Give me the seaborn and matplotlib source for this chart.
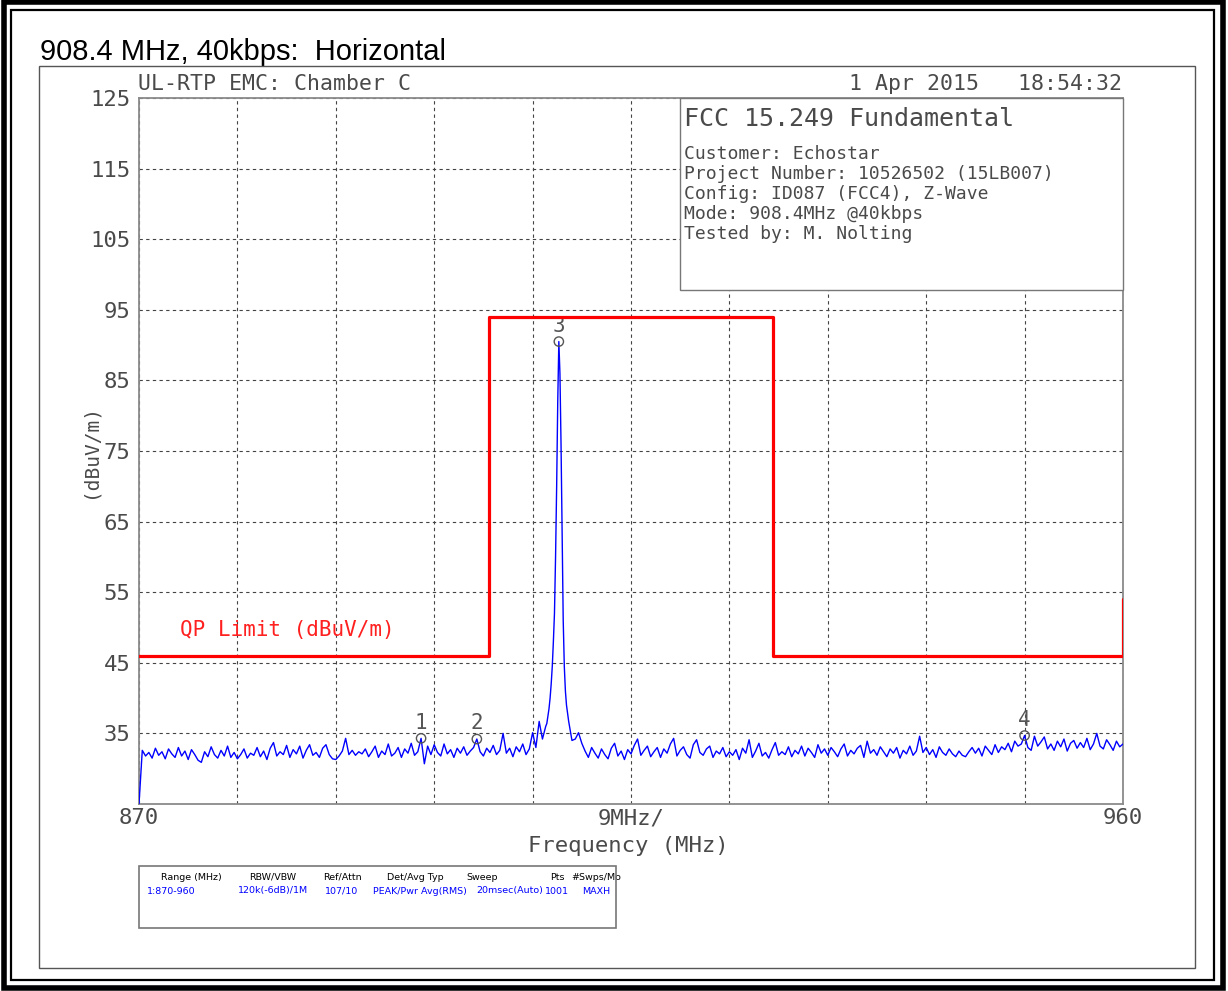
import numpy as np
import pandas as pd
import matplotlib
matplotlib.use("Agg")
import matplotlib.pyplot as plt
from matplotlib.patches import Rectangle
import seaborn as sns

# ---------------- data ----------------
sweep_start, sweep_stop, sweep_points = 870.0, 960.0, 301
noise_level = [
    25.0, 32.6, 31.8, 32.3, 31.5, 32.9, 31.9, 32.4, 31.4, 32.8,
    32.1, 31.6, 33.0, 31.8, 32.5, 31.3, 32.7, 32.0, 31.2, 30.9,
    32.4, 31.7, 33.1, 32.0, 31.5, 32.6, 31.8, 33.2, 31.6, 32.3,
    31.4, 32.0, 32.8, 31.5, 32.2, 31.9, 33.0, 31.7, 32.5, 31.3,
    32.9, 33.7, 31.8, 32.4, 32.0, 33.3, 31.6, 32.7, 32.1, 33.2,
    31.5, 32.6, 33.4, 31.9, 32.3, 31.6, 32.9, 33.4, 32.0, 31.4,
    31.3, 31.8, 32.5, 34.3, 32.0, 32.6, 31.9, 32.4, 32.1, 32.8,
    31.7, 32.4, 33.2, 31.6, 32.5, 32.0, 33.5, 31.8, 32.2, 33.0,
    31.6, 32.8, 32.2, 33.6, 31.9, 32.4, 34.3, 30.7, 33.2, 32.0,
    33.4, 32.3, 31.8, 33.5, 32.1, 32.7, 31.6, 32.9, 32.2, 33.1,
    31.9, 32.5, 33.0, 34.2, 32.4, 31.8, 32.9, 32.3, 33.3, 32.0,
    32.6, 35.0, 32.2, 32.9, 31.7, 33.1, 32.4, 33.5, 32.0, 32.8,
    35.1, 33.0, 36.7, 34.2, 36.0, 38.5, 44.5, 60.0, 90.5, 64.0,
    41.0, 36.7, 34.0, 34.2, 35.1, 33.6, 32.5, 31.6, 33.0, 32.2,
    31.5, 32.8, 32.0, 31.4, 32.9, 33.6, 31.8, 32.5, 31.3, 32.7,
    32.1, 33.3, 34.2, 31.9, 32.6, 33.2, 31.7, 32.4, 33.0, 31.6,
    32.8, 32.2, 33.5, 34.3, 31.8, 32.6, 33.1, 32.0, 31.5, 33.4,
    34.1, 32.3, 31.9, 32.8, 33.2, 31.6, 32.5, 32.1, 33.0, 31.7,
    32.4, 31.9, 32.7, 31.3, 32.9, 32.2, 34.1, 31.6, 32.5, 33.6,
    31.8, 32.3, 31.5, 32.7, 33.7, 31.9, 32.4, 32.0, 33.1, 31.7,
    32.6, 32.1, 33.2, 31.8, 32.9, 32.3, 31.6, 33.4, 32.2, 32.8,
    31.9, 33.0, 32.4, 31.7, 32.8, 33.5, 31.8, 32.6, 32.1, 32.9,
    33.3, 31.6, 33.9, 32.2, 32.7, 31.9, 33.1, 32.4, 31.7, 32.8,
    32.2, 33.0, 31.5, 32.6, 32.1, 33.2, 31.9, 32.5, 34.6, 32.3,
    33.0, 32.0, 32.7, 31.6, 33.1, 32.3, 31.9, 32.8, 32.1, 31.7,
    32.5, 31.9, 31.7, 32.4, 33.0, 32.2, 32.9, 31.8, 33.2, 32.6,
    32.0, 33.4, 32.3, 33.1, 32.7, 33.6, 32.4, 33.9, 33.2, 33.5,
    34.7, 33.0, 32.6, 34.6, 33.2, 33.8, 34.5, 32.8, 33.5, 32.6,
    33.9, 33.1, 34.2, 32.5, 33.6, 34.0, 32.9, 33.7, 33.0, 34.3,
    32.7, 33.5, 35.0, 33.2, 32.8, 34.1, 33.4, 32.6, 33.9, 33.1,
    33.5,
]
peak_freq = [907.3, 907.4, 907.5, 907.6, 907.7, 907.8, 907.9, 908.0, 908.1, 908.2,
             908.3, 908.4, 908.5, 908.6, 908.7, 908.8, 908.9, 909.0, 909.1, 909.2, 909.3]
peak_level = [36.4, 37.4, 38.5, 40.0, 42.0, 44.5, 48.0, 52.0, 60.0, 70.0,
              82.0, 90.5, 86.0, 76.0, 64.0, 51.0, 44.5, 41.0, 39.0, 37.8, 36.7]

limit_freq = [870, 902, 902, 928, 928, 960, 960]
limit_level = [46, 46, 94, 94, 46, 46, 54]

marker_names = ["1", "2", "3", "4"]
marker_freq = [895.8, 900.9, 908.4, 951.0]
marker_level = [34.3, 34.2, 90.5, 34.7]

y_ticks = [35, 45, 55, 65, 75, 85, 95, 105, 115, 125]
x_ticks = [870, 879, 888, 897, 906, 915, 924, 933, 942, 951, 960]
x_ticklabels = ["870", "", "", "", "", "9MHz/", "", "", "", "", "960"]

info_title = "FCC 15.249 Fundamental"
info_lines = ["Customer: Echostar",
              "Project Number: 10526502 (15LB007)",
              "Config: ID087 (FCC4), Z-Wave",
              "Mode: 908.4MHz @40kbps",
              "Tested by: M. Nolting"]
table_headers = ["Range (MHz)", "RBW/VBW", "Ref/Attn", "Det/Avg Typ", "Sweep", "Pts", "#Swps/Mo"]
table_values = ["1:870-960", "120k(-6dB)/1M", "107/10", "PEAK/Pwr Avg(RMS)", "20msec(Auto)", "1001", "MAXH"]

# ---------------- build trace ----------------
noise_freq = np.linspace(sweep_start, sweep_stop, sweep_points)
noise_df = pd.DataFrame({"freq": noise_freq, "level": noise_level})
keep = (noise_df["freq"] < peak_freq[0]) | (noise_df["freq"] > peak_freq[-1])
trace = pd.concat([noise_df[keep], pd.DataFrame({"freq": peak_freq, "level": peak_level})])
trace = trace.sort_values("freq").reset_index(drop=True)
limit_df = pd.DataFrame({"freq": limit_freq, "level": limit_level})

# ---------------- figure ----------------
sns.set_theme(style="white")
HP = "DejaVu Sans Mono"
plt.rcParams["font.family"] = ["DejaVu Sans"]
TXT = "#4a4a4a"

W, H = 1228, 991
fig = plt.figure(figsize=(W / 100, H / 100), dpi=100)
fig.patch.set_facecolor("white")

def fx(p):
    return p / W

def fy(p):
    return 1 - p / H

ax = fig.add_axes([fx(139), fy(804), fx(1123) - fx(139), fy(98) - fy(804)])
ax.set_facecolor("white")

sns.lineplot(data=trace, x="freq", y="level", color="#0000ff", lw=1.0,
             estimator=None, sort=False, legend=False, ax=ax, zorder=3)
sns.lineplot(data=limit_df, x="freq", y="level", color="#ff0000", lw=2.3,
             estimator=None, sort=False, legend=False, ax=ax, zorder=4)
sns.scatterplot(x=marker_freq, y=marker_level, marker="o", s=45,
                facecolor="none", edgecolor="#555555", linewidth=1.0, ax=ax, zorder=5)
for name, f, l in zip(marker_names, marker_freq, marker_level):
    ax.annotate(name, (f, l), xytext=(0, 4), textcoords="offset points",
                ha="center", va="bottom", family=HP, fontsize=15, color="#555555")

ax.text(873.75, 49.6, "QP Limit (dBuV/m)", color="#ff2020", family=HP,
        fontsize=15, va="center", ha="left")

ax.set_xlim(sweep_start, sweep_stop)
ax.set_ylim(25, 125)
ax.set_xticks(x_ticks)
ax.set_xticklabels(x_ticklabels)
ax.set_yticks(y_ticks)
ax.set_yticklabels([str(v) for v in y_ticks])
ax.tick_params(length=0, labelsize=16, labelcolor=TXT)
ax.tick_params(axis="y", pad=6)
ax.tick_params(axis="x", pad=3)
for lab in ax.get_xticklabels() + ax.get_yticklabels():
    lab.set_family(HP)
ax.set_xlabel("")
ax.set_ylabel("")
ax.grid(True, color="#444444", linestyle=(0, (3, 3)), linewidth=0.8)
for s in ax.spines.values():
    s.set_color("#8a8a8a")
    s.set_linewidth(1.3)

# axis titles
fig.text(fx(628), fy(846), "Frequency (MHz)", family=HP, fontsize=16, color=TXT,
         ha="center", va="center")
fig.text(fx(90), fy(451), "(dBuV/m)", family=HP, fontsize=14, color=TXT,
         ha="center", va="center", rotation=90)

# header texts
fig.text(fx(40), fy(60), "908.4 MHz, 40kbps:  Horizontal", family="Liberation Sans",
         fontsize=21, color="black", ha="left", va="baseline")
fig.text(fx(138), fy(90), "UL-RTP EMC: Chamber C", family=HP, fontsize=15.5,
         color=TXT, ha="left", va="baseline")
fig.text(fx(1122), fy(90), "1 Apr 2015   18:54:32", family=HP, fontsize=15.5,
         color=TXT, ha="right", va="baseline")

# info box
fig.add_artist(Rectangle((fx(680), fy(290)), fx(1123) - fx(680), fy(98) - fy(290),
                         transform=fig.transFigure, facecolor="white",
                         edgecolor="#777777", lw=1.0, zorder=5))
fig.text(fx(684), fy(119), info_title, family=HP, fontsize=18, color=TXT,
         ha="left", va="center", zorder=6)
for i, line in enumerate(info_lines):
    fig.text(fx(684), fy(154 + 20 * i), line, family=HP, fontsize=13, color=TXT,
             ha="left", va="center", zorder=6)

# table box
fig.add_artist(Rectangle((fx(139), fy(928)), fx(616) - fx(139), fy(866) - fy(928),
                         transform=fig.transFigure, facecolor="none",
                         edgecolor="#777777", lw=1.2, zorder=5))
head_x = [191, 273, 342, 415, 482, 557, 596]
val_x = [171, 273, 342, 420, 510, 557, 596]
for hx, h in zip(head_x, table_headers):
    fig.text(fx(hx), fy(877), h, fontsize=6.8, color="black", ha="center", va="center")
for vx, v in zip(val_x, table_values):
    fig.text(fx(vx), fy(891), v, fontsize=6.8, color="#0000ff", ha="center", va="center")

# frames
fig.add_artist(Rectangle((fx(39), fy(968)), fx(1195) - fx(39), fy(66) - fy(968),
                         transform=fig.transFigure, facecolor="none",
                         edgecolor="#555555", lw=1.0, zorder=5))
fig.add_artist(Rectangle((fx(11), fy(980)), fx(1214) - fx(11), fy(10) - fy(980),
                         transform=fig.transFigure, facecolor="none",
                         edgecolor="black", lw=1.6, zorder=5))
fig.add_artist(Rectangle((fx(4), fy(988)), fx(1223) - fx(4), fy(2) - fy(988),
                         transform=fig.transFigure, facecolor="none",
                         edgecolor="black", lw=4.0, zorder=5))

fig.savefig("out.png", dpi=100)
